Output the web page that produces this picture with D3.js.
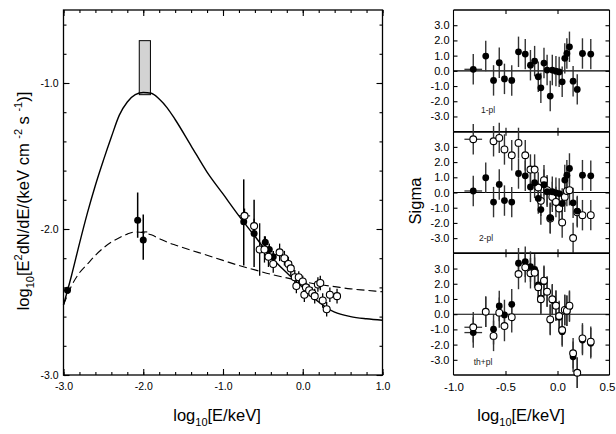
<!DOCTYPE html>
<html><head><meta charset="utf-8">
<script src="https://cdn.jsdelivr.net/npm/d3@7"></script>
<style>body{margin:0;background:#fff}svg{display:block}</style>
</head><body><svg id="c" width="616" height="434"></svg>
<script>
// ---------- Left panel data ----------
const modelX = [-3.0,-2.9,-2.8,-2.7,-2.6,-2.5,-2.4,-2.3,-2.2,-2.1,-2.0,-1.9,-1.8,-1.7,-1.6,-1.4,-1.2,-1.0,-0.8,-0.6,-0.4,-0.2,0.0,0.2,0.4,0.6,0.8,1.0];
const modelSolid = [-2.52,-2.32,-2.10,-1.89,-1.70,-1.53,-1.37,-1.22,-1.13,-1.08,-1.065,-1.07,-1.11,-1.17,-1.25,-1.43,-1.61,-1.76,-1.91,-2.05,-2.19,-2.30,-2.40,-2.50,-2.57,-2.60,-2.615,-2.625];
const modelDashed = [-2.52,-2.39,-2.30,-2.24,-2.18,-2.13,-2.09,-2.06,-2.035,-2.02,-2.025,-2.04,-2.065,-2.09,-2.11,-2.145,-2.18,-2.215,-2.25,-2.28,-2.31,-2.335,-2.36,-2.38,-2.395,-2.41,-2.42,-2.43];
const boxX = [-2.05,-1.91];
const boxY = [-1.08,-0.71];
// filled points: x, y, y low, y high
const filledX  = [-2.95,-2.07,-2.00,-0.74,-0.61,-0.47,-0.42,-0.37];
const filledY  = [-2.42,-1.94,-2.075,-1.95,-2.03,-2.09,-2.14,-2.19];
const filledLo = [-2.44,-2.06,-2.21,-2.25,-2.26,-2.13,-2.18,-2.23];
const filledHi = [-2.40,-1.75,-1.90,-1.66,-1.80,-2.05,-2.10,-2.15];
// open points
const openX  = [-0.73,-0.61,-0.54,-0.48,-0.43,-0.37,-0.29,-0.23,-0.18,-0.15,-0.10,-0.08,-0.05,0.00,0.02,0.04,0.08,0.12,0.15,0.19,0.22,0.25,0.30,0.34,0.43];
const openY  = [-1.91,-1.98,-2.14,-2.14,-2.19,-2.24,-2.16,-2.20,-2.24,-2.27,-2.33,-2.39,-2.33,-2.36,-2.45,-2.40,-2.42,-2.44,-2.46,-2.38,-2.37,-2.49,-2.55,-2.45,-2.46];
const openErr= [0.05,0.05,0.18,0.09,0.07,0.06,0.06,0.05,0.05,0.05,0.05,0.05,0.04,0.04,0.05,0.04,0.04,0.04,0.05,0.05,0.05,0.05,0.05,0.05,0.05];
const xTicksL = [-3,-2,-1,0,1];
const yTicksL = [-3,-2,-1];

// ---------- Right panels data ----------
const resX = [-0.81,-0.69,-0.615,-0.56,-0.51,-0.44,-0.375,-0.31,-0.26,-0.22,-0.185,-0.16,-0.13,-0.10,-0.07,-0.05,-0.015,0.016,0.045,0.07,0.09,0.115,0.15,0.19,0.24,0.32];
const resXErr = [0.085,0,0,0,0,0,0,0,0,0,0,0,0,0,0,0,0,0,0,0,0,0,0,0,0.03,0.03];
const sigma1pl = [0.1,0.97,-0.63,0.53,-0.53,-0.63,1.25,1.1,0.37,0.64,-0.39,-1.12,0.51,0.05,-1.66,0.05,-0.02,-0.07,-0.72,0.82,1.14,1.58,-0.68,-1.22,1.14,1.1];
const sigma2plOpen = [3.5,null,3.37,3.59,2.83,2.45,3.26,2.45,1.51,1.51,0.33,-0.55,0.81,0.15,-1.71,-0.29,-0.62,-1.05,-1.97,-0.29,0.1,0.15,-2.99,-1.3,-1.49,-1.49];
const sigmaThFilled = [-1.21,0.16,-0.99,0.54,-0.05,0.65,3.35,3.45,3.13,2.95,1.92,1.05,2.14,1.48,-0.38,0.93,0.56,-0.2,-1.15,0.28,0.23,0.49,-2.8,-3.85,-1.7,-1.91];
const sigmaThOpen = [-0.86,0.16,-1.43,0.1,-0.78,-0.2,2.64,3.08,2.69,2.73,1.77,0.98,2.2,1.48,-0.34,0.98,0.56,-0.12,-1.04,0.28,0.23,0.56,-2.57,-3.85,-1.59,-1.81];
const panelLabels = ["1-pl","2-pl","th+pl"];
const xTicksR = [-1,-0.5,0,0.5];
const yTicksR = [-3,-2,-1,0,1,2,3];

// ---------- drawing ----------
const svg = d3.select("#c");
svg.append("rect").attr("width",616).attr("height",434).attr("fill","#fff");
const FONT = "'Liberation Sans', Arial, sans-serif";
const NARROW = "'Liberation Sans Narrow', 'Arial Narrow', sans-serif";
const fmt = d => d.toFixed(1);

const xL = d3.scaleLinear().domain([-3,1]).range([63.5,382.5]);
const yL = d3.scaleLinear().domain([-3,-0.5]).range([375,10]);

function styleAxis(g, font, size){
  g.select(".domain").remove();
  g.selectAll("line").attr("stroke","#000").attr("stroke-width",1.1);
  g.selectAll("text").attr("font-family",font).attr("font-size",size).attr("fill","#000");
}
const minorX = d3.range(-3,1.001,0.2).map(v=>+v.toFixed(2));
const minorY = d3.range(-3,-0.5,0.2).map(v=>+v.toFixed(2));
const L = svg.append("g");
L.append("g").attr("transform","translate(0,375)").call(d3.axisBottom(xL).tickValues(xTicksL).tickSize(-6).tickPadding(8).tickFormat(fmt)).call(g=>styleAxis(g,NARROW,10.5));
L.append("g").attr("transform","translate(0,375)").call(d3.axisBottom(xL).tickValues(minorX).tickSize(-3).tickFormat("")).call(g=>styleAxis(g,NARROW,10));
L.append("g").attr("transform","translate(0,10)").call(d3.axisTop(xL).tickValues(xTicksL).tickSize(-6).tickFormat("")).call(g=>styleAxis(g,NARROW,10));
L.append("g").attr("transform","translate(0,10)").call(d3.axisTop(xL).tickValues(minorX).tickSize(-3).tickFormat("")).call(g=>styleAxis(g,NARROW,10));
L.append("g").attr("transform","translate(63.5,0)").call(d3.axisLeft(yL).tickValues(yTicksL).tickSize(-6).tickPadding(5).tickFormat(fmt)).call(g=>styleAxis(g,NARROW,10.5));
L.append("g").attr("transform","translate(63.5,0)").call(d3.axisLeft(yL).tickValues(minorY).tickSize(-3).tickFormat("")).call(g=>styleAxis(g,NARROW,10));
L.append("g").attr("transform","translate(382.5,0)").call(d3.axisRight(yL).tickValues(yTicksL).tickSize(-6).tickFormat("")).call(g=>styleAxis(g,NARROW,10));
L.append("g").attr("transform","translate(382.5,0)").call(d3.axisRight(yL).tickValues(minorY).tickSize(-3).tickFormat("")).call(g=>styleAxis(g,NARROW,10));
L.append("rect").attr("x",xL(-3)).attr("y",yL(-0.5)).attr("width",xL(1)-xL(-3)).attr("height",yL(-3)-yL(-0.5))
  .attr("fill","none").attr("stroke","#000").attr("stroke-width",1.3);

// grey box
L.append("rect").attr("x",xL(boxX[0])).attr("y",yL(boxY[1])).attr("width",xL(boxX[1])-xL(boxX[0])).attr("height",yL(boxY[0])-yL(boxY[1]))
  .attr("fill","#d3d3d3").attr("stroke","#000").attr("stroke-width",1);

// curves
const line = d3.line().x(d=>xL(d[0])).y(d=>yL(d[1])).curve(d3.curveMonotoneX);
L.append("path").attr("d",line(modelX.map((x,i)=>[x,modelSolid[i]]))).attr("fill","none").attr("stroke","#000").attr("stroke-width",1.4);
L.append("path").attr("d",line(modelX.map((x,i)=>[x,modelDashed[i]]))).attr("fill","none").attr("stroke","#000").attr("stroke-width",1.1).attr("stroke-dasharray","8,4");

// error bars left
filledX.forEach((x,i)=>{
  L.append("line").attr("x1",xL(x)).attr("x2",xL(x)).attr("y1",yL(filledLo[i])).attr("y2",yL(filledHi[i])).attr("stroke","#000").attr("stroke-width",1.5);
});
openX.forEach((x,i)=>{
  L.append("line").attr("x1",xL(x)).attr("x2",xL(x)).attr("y1",yL(openY[i]-openErr[i])).attr("y2",yL(openY[i]+openErr[i])).attr("stroke","#000").attr("stroke-width",1.3);
});
L.append("line").attr("x1",xL(-0.80)).attr("x2",xL(-0.66)).attr("y1",yL(openY[0])).attr("y2",yL(openY[0])).attr("stroke","#000").attr("stroke-width",1.1);
L.append("line").attr("x1",xL(-2.02)).attr("x2",xL(-1.95)).attr("y1",yL(-2.02)).attr("y2",yL(-2.02)).attr("stroke","#000").attr("stroke-width",1.1);
L.append("line").attr("x1",xL(-2.99)).attr("x2",xL(-2.91)).attr("y1",yL(-2.42)).attr("y2",yL(-2.42)).attr("stroke","#000").attr("stroke-width",1.1);
L.selectAll("circle.f").data(filledX).join("circle").attr("class","f").attr("cx",d=>xL(d)).attr("cy",(d,i)=>yL(filledY[i])).attr("r",3.5).attr("fill","#000");
L.selectAll("circle.o").data(openX).join("circle").attr("class","o").attr("cx",d=>xL(d)).attr("cy",(d,i)=>yL(openY[i])).attr("r",3.5).attr("fill","#fff").attr("stroke","#000").attr("stroke-width",1.1);

// axis titles left
const tx = L.append("text").attr("x",217).attr("y",421).attr("text-anchor","middle").attr("font-family",FONT).attr("font-size",16.5);
tx.append("tspan").text("log");
tx.append("tspan").attr("font-size",11).attr("dy",5).text("10");
tx.append("tspan").attr("dy",-5).text("[E/keV]");

const ty = L.append("text").attr("transform","translate(28.5,201) rotate(-90)").attr("text-anchor","middle").attr("font-family",FONT).attr("font-size",16.5);
ty.append("tspan").text("log");
ty.append("tspan").attr("font-size",11).attr("dy",5).text("10");
ty.append("tspan").attr("dy",-5).text("[E");
ty.append("tspan").attr("font-size",11).attr("dy",-7).text("2");
ty.append("tspan").attr("dy",7).text("dN/dE/(keV cm ");
ty.append("tspan").attr("font-size",11).attr("dy",-7).text("-2");
ty.append("tspan").attr("dy",7).text(" s ");
ty.append("tspan").attr("font-size",11).attr("dy",-7).text("-1");
ty.append("tspan").attr("dy",7).text(")]");

// ---------- Right panels ----------
const xR = d3.scaleLinear().domain([-1,0.5]).range([453.5,609.5]);
const pTop = 10, pH = 121.67;
const labelPos = [[-0.668,-2.78],[-0.687,-3.18],[-0.716,-3.33]];
const R = svg.append("g");
const panelData = [
  {filled: sigma1pl, open: null},
  {filled: sigma1pl, open: sigma2plOpen},
  {filled: sigmaThFilled, open: sigmaThOpen}
];
panelData.forEach((p,k)=>{
  const top = pTop + k*pH;
  const yR = d3.scaleLinear().domain([-4,4]).range([top+pH, top]);
  const g = R.append("g");
  g.append("g").attr("transform",`translate(${xR(-1)},0)`).call(d3.axisLeft(yR).tickValues(yTicksR).tickSize(-4).tickPadding(4).tickFormat(fmt)).call(a=>styleAxis(a,FONT,11));
  g.append("g").attr("transform",`translate(${xR(0.5)},0)`).call(d3.axisRight(yR).tickValues(yTicksR).tickSize(-4).tickFormat("")).call(a=>styleAxis(a,FONT,11));
  g.append("g").attr("transform",`translate(0,${top})`).call(d3.axisTop(xR).tickValues([-0.5,0]).tickSize(-4).tickFormat("")).call(a=>styleAxis(a,FONT,11));
  const bot = g.append("g").attr("transform",`translate(0,${top+pH})`).call(d3.axisBottom(xR).tickValues(k===2?xTicksR:[-0.5,0]).tickSize(-4).tickPadding(8).tickFormat(k===2?fmt:"")).call(a=>styleAxis(a,FONT,11.5));
  if(k===2){
    bot.selectAll("g.tick").filter(d=>d===-1||d===0.5).select("line").remove();
    bot.selectAll("g.tick").filter(d=>d===0.5).select("text").attr("text-anchor","end").attr("x",615-xR(0.5));
  }
  // frame
  g.append("line").attr("x1",xR(-1)).attr("x2",xR(-1)).attr("y1",top).attr("y2",top+pH).attr("stroke","#000").attr("stroke-width",1.1);
  g.append("line").attr("x1",xR(0.5)).attr("x2",xR(0.5)).attr("y1",top).attr("y2",top+pH).attr("stroke","#000").attr("stroke-width",1.1);
  g.append("line").attr("x1",xR(-1)).attr("x2",xR(0.5)).attr("y1",top).attr("y2",top).attr("stroke","#000").attr("stroke-width",1.5);
  g.append("line").attr("x1",xR(-1)).attr("x2",xR(0.5)).attr("y1",top+pH).attr("y2",top+pH).attr("stroke","#000").attr("stroke-width",1.5);
  g.append("line").attr("x1",xR(-1)).attr("x2",xR(0.5)).attr("y1",yR(0)).attr("y2",yR(0)).attr("stroke","#000").attr("stroke-width",1.1);
  g.append("text").attr("x",xR(labelPos[k][0])).attr("y",yR(labelPos[k][1])).attr("text-anchor","middle").attr("font-family",FONT).attr("font-size",8.5).attr("fill","#222").text(panelLabels[k]);
  const series = [];
  if(p.open) series.push({vals:p.open, filled:false});
  series.push({vals:p.filled, filled:true});
  if(k===2){ series.reverse(); }
  series.forEach(s=>{
    resX.forEach((x,i)=>{
      const v = s.vals[i]; if(v===null) return;
      g.append("line").attr("x1",xR(x)).attr("x2",xR(x)).attr("y1",yR(v-1)).attr("y2",yR(v+1)).attr("stroke","#333").attr("stroke-width",1.4);
      if(resXErr[i]>0) g.append("line").attr("x1",xR(x-resXErr[i])).attr("x2",xR(x+resXErr[i])).attr("y1",yR(v)).attr("y2",yR(v)).attr("stroke","#333").attr("stroke-width",1.3);
    });
  });
  series.forEach(s=>{
    resX.forEach((x,i)=>{
      const v = s.vals[i]; if(v===null || v>4 || v<-4) return;
      const c = g.append("circle").attr("cx",xR(x)).attr("cy",yR(v)).attr("r",3.4);
      if(s.filled) c.attr("fill","#000"); else c.attr("fill","#fff").attr("stroke","#000").attr("stroke-width",1.1);
    });
  });
});
const rx = R.append("text").attr("x",521).attr("y",421).attr("text-anchor","middle").attr("font-family",FONT).attr("font-size",16.5);
rx.append("tspan").text("log");
rx.append("tspan").attr("font-size",11).attr("dy",5).text("10");
rx.append("tspan").attr("dy",-5).text("[E/keV]");
R.append("text").attr("transform","translate(420.5,201) rotate(-90)").attr("text-anchor","middle").attr("font-family",FONT).attr("font-size",16.5).text("Sigma");
</script></body></html>
